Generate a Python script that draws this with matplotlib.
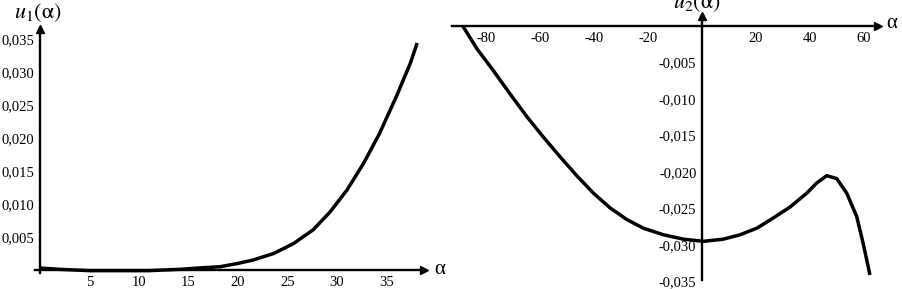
import numpy as np
import matplotlib.pyplot as plt

plt.rcParams['font.family'] = ['Liberation Serif', 'DejaVu Serif']
plt.rcParams['mathtext.fontset'] = 'stix'

# left curve u1(alpha)
a1 = [0, 2, 5, 8, 11, 14.1, 16, 18.2, 20, 21.5, 23.6, 25.6, 27.6, 29.3, 31.0,
      32.7, 34.3, 36.0, 37.4, 38.1]
u1 = [0.0003, 0.0001, -0.0001, -0.0001, -0.0001, 0.0001, 0.0003, 0.0005, 0.0010,
      0.0015, 0.0025, 0.0040, 0.0061, 0.0088, 0.0121, 0.0162, 0.0207, 0.0263,
      0.0313, 0.0344]
x1_ticks = [5, 10, 15, 20, 25, 30, 35]
y1_ticks = [0.005, 0.010, 0.015, 0.020, 0.025, 0.030, 0.035]

# right curve u2(alpha)
a2 = [-88.6, -83.4, -77.3, -71.1, -64.9, -58.8, -52.6, -46.4, -40.2, -34.1, -27.9,
      -21.7, -14.3, -6.9, 0.5, 7.9, 14.1, 20.3, 26.4, 32.6, 38.8, 42.5, 46.2,
      49.9, 53.6, 57.3, 59.7, 62.2]
u2 = [0.0, -0.0031, -0.0061, -0.0093, -0.0124, -0.0152, -0.0179, -0.0205, -0.0229,
      -0.0249, -0.0265, -0.0277, -0.0286, -0.0292, -0.0295, -0.0292, -0.0286,
      -0.0277, -0.0263, -0.0248, -0.0229, -0.0215, -0.0205, -0.0209, -0.0229,
      -0.0261, -0.0298, -0.0341]
x2_ticks = [-80, -60, -40, -20, 20, 40, 60]
y2_ticks = [-0.005, -0.010, -0.015, -0.020, -0.025, -0.030, -0.035]

W, H = 902, 289
fig = plt.figure(figsize=(W / 100, H / 100), dpi=100)


def px_axes(x0, x1):
    return fig.add_axes([x0 / W, 0, (x1 - x0) / W, 1])


def fmt(v):
    return ('%.3f' % v).replace('.', ',')


def setup(ax, x0px, sx, y0px, sy, box, xb, yb):
    # pixel box -> data limits, so zero lines land where they are in the picture
    ax.set_xlim((box[0] - x0px) / sx, (box[1] - x0px) / sx)
    ax.set_ylim((y0px - H) / sy, y0px / sy)
    for s in ['top', 'right']:
        ax.spines[s].set_visible(False)
    ax.spines['left'].set_position(('data', 0))
    ax.spines['bottom'].set_position(('data', 0))
    ax.spines['left'].set_bounds((y0px - yb[1]) / sy, (y0px - yb[0]) / sy)
    ax.spines['bottom'].set_bounds((xb[0] - x0px) / sx, (xb[1] - x0px) / sx)
    for s in ['left', 'bottom']:
        ax.spines[s].set_linewidth(1.7)
    ax.patch.set_visible(False)
    ax.tick_params(length=0, labelsize=10.5)
    ax.tick_params(axis='x', pad=4)
    ax.tick_params(axis='y', pad=4)
    ax.plot((xb[1] - x0px) / sx, 0, '>k', ms=6, clip_on=False)
    ax.plot(0, (y0px - yb[0]) / sy, '^k', ms=6, clip_on=False)


ax1 = px_axes(0, 445)
setup(ax1, 40, 9.9, 270, 6600, (0, 445), (35, 424), (29, 273))
ax1.plot(a1, u1, color='black', lw=2.5, solid_capstyle='butt')
ax1.set_xticks(x1_ticks)
ax1.set_xticklabels([str(v) for v in x1_ticks])
ax1.set_yticks(y1_ticks)
ax1.set_yticklabels([fmt(v) for v in y1_ticks])
fig.text(434 / W, 1 - 270 / H, 'α', fontsize=15, ha='left', va='center')
fig.text(38 / W, 1 - 13 / H, r'$u_1(\mathrm{\alpha})$', fontsize=16,
         ha='center', va='center')

ax2 = px_axes(450, 902)
setup(ax2, 702, 2.7, 26, 7300, (450, 902), (452, 878), (16, 280))
ax2.plot(a2, u2, color='black', lw=2.5, solid_capstyle='butt')
ax2.set_xticks(x2_ticks)
ax2.set_xticklabels([str(v) for v in x2_ticks])
ax2.set_yticks(y2_ticks)
ax2.set_yticklabels([fmt(v) for v in y2_ticks])
fig.text(886 / W, 1 - 24 / H, 'α', fontsize=15, ha='left', va='center')
fig.text(697 / W, 1 - 3 / H, r'$u_2(\mathrm{\alpha})$', fontsize=16,
         ha='center', va='center')

fig.savefig('out.png', dpi=100)
